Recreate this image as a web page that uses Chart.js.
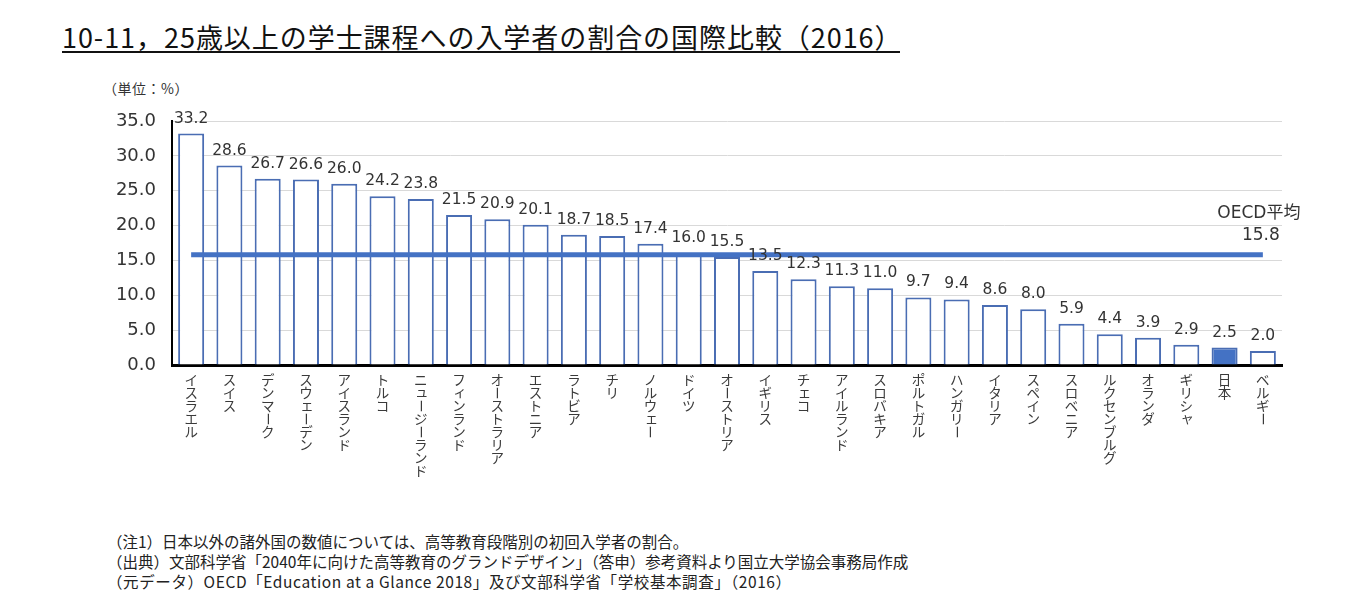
<!DOCTYPE html>
<html lang="ja">
<head>
<meta charset="utf-8">
<script src="https://cdn.jsdelivr.net/npm/chart.js@4"></script>
<style>
  html, body { margin:0; padding:0; background:#fff; }
  body { width:1372px; height:614px; position:relative; overflow:hidden; font-family:"Noto Sans CJK JP", sans-serif; color:#222; }
  #title { position:absolute; left:62px; top:22px; font-size:27px; font-weight:400; letter-spacing:0.95px; color:#111; white-space:nowrap; line-height:30px; }
  #uline { position:absolute; left:62px; top:51px; width:838px; height:2px; background:#111; }
  #unit { position:absolute; left:103px; top:78px; font-size:14px; letter-spacing:0.5px; color:#333; white-space:nowrap; }
  #notes { position:absolute; left:107px; top:531px; font-size:15.5px; line-height:20px; color:#222; white-space:nowrap; }
  #notes .l3 { letter-spacing:0.6px; }
  canvas { position:absolute; left:0; top:0; }
</style>
</head>
<body>
<div id="title">10-11，25歳以上の学士課程への入学者の割合の国際比較（2016）</div>
<div id="uline"></div>
<div id="unit">（単位：%）</div>
<div id="notes">
  <div>（注1）日本以外の諸外国の数値については、高等教育段階別の初回入学者の割合。</div>
  <div>（出典）文部科学省「2040年に向けた高等教育のグランドデザイン」（答申）参考資料より国立大学協会事務局作成</div>
  <div class="l3">（元データ）OECD「Education at a Glance 2018」及び文部科学省「学校基本調査」（2016）</div>
</div>
<canvas id="c" width="1372" height="614"></canvas>
<script>
const countries = ["イスラエル","スイス","デンマーク","スウェーデン","アイスランド","トルコ","ニュージーランド","フィンランド","オーストラリア","エストニア","ラトビア","チリ","ノルウェー","ドイツ","オーストリア","イギリス","チェコ","アイルランド","スロバキア","ポルトガル","ハンガリー","イタリア","スペイン","スロベニア","ルクセンブルグ","オランダ","ギリシャ","日本","ベルギー"];
const values = [33.2,28.6,26.7,26.6,26.0,24.2,23.8,21.5,20.9,20.1,18.7,18.5,17.4,16.0,15.5,13.5,12.3,11.3,11.0,9.7,9.4,8.6,8.0,5.9,4.4,3.9,2.9,2.5,2.0];
const oecdAvg = 15.8;
const oecdLabel = "OECD平均";
const highlight = "日本";
const yTicks = [0,5,10,15,20,25,30,35];

const BLUE = '#4472C4';
const EDGE = '#4a6db3';

const labelPlugin = {
  id: 'labels',
  afterDatasetsDraw(chart) {
    const ctx = chart.ctx;
    const xs = chart.scales.x, ys = chart.scales.y;
    const barMeta = chart.getDatasetMeta(1);
    ctx.save();
    // value labels
    ctx.fillStyle = '#333';
    ctx.font = '15.5px "DejaVu Sans", sans-serif';
    ctx.textAlign = 'center';
    ctx.textBaseline = 'alphabetic';
    barMeta.data.forEach((bar, i) => {
      ctx.fillText(values[i].toFixed(1), bar.x, bar.y - 11);
    });
    // vertical category labels
    ctx.fillStyle = '#3a3a3a';
    ctx.font = '13.5px "Noto Sans CJK JP", sans-serif';
    ctx.textBaseline = 'middle';
    const smalls = 'ァィゥェォャュョッ';
    countries.forEach((name, i) => {
      const x = xs.getPixelForValue(i);
      let y = 380;
      for (const ch of name) {
        if (ch === 'ー') {
          ctx.save();
          ctx.translate(x, y);
          ctx.rotate(Math.PI / 2);
          ctx.fillText(ch, 0, 0);
          ctx.restore();
        } else if (smalls.includes(ch)) {
          ctx.fillText(ch, x + 1, y - 1);
        } else {
          ctx.fillText(ch, x, y);
        }
        y += 13;
      }
    });
    // OECD average label
    const lx = xs.getPixelForValue(countries.length - 1);
    const ly = ys.getPixelForValue(oecdAvg);
    ctx.fillStyle = '#333';
    ctx.textBaseline = 'alphabetic';
    ctx.font = '17px "DejaVu Sans", "Noto Sans CJK JP", sans-serif';
    ctx.fillText(oecdLabel, lx - 4, ly - 37);
    ctx.fillText(oecdAvg.toFixed(1), lx - 2, ly - 15);
    ctx.restore();
  }
};

new Chart(document.getElementById('c'), {
  data: {
    labels: countries,
    datasets: [
      {
        type: 'line',
        label: oecdLabel,
        data: countries.map(() => oecdAvg),
        borderColor: BLUE,
        borderWidth: 5,
        pointRadius: 0,
        borderCapStyle: 'butt',
        order: 0
      },
      {
        type: 'bar',
        label: '割合',
        data: values,
        backgroundColor: countries.map(c => c === highlight ? BLUE : '#ffffff'),
        borderColor: EDGE,
        borderWidth: 2,
        borderSkipped: 'start',
        categoryPercentage: 1.0,
        barPercentage: 0.68,
        order: 1
      }
    ]
  },
  options: {
    responsive: false,
    animation: false,
    devicePixelRatio: 1,
    layout: { padding: { left: 102, right: 90, top: 121, bottom: 249 } },
    plugins: { legend: { display: false }, tooltip: { enabled: false }, title: { display: false } },
    scales: {
      x: {
        offset: true,
        grid: { display: false, drawTicks: false },
        border: { display: true, color: '#000', width: 3 },
        ticks: { display: false },
        afterFit(scale) { scale.height = 0; }
      },
      y: {
        min: 0, max: 35,
        afterBuildTicks(scale) { scale.ticks = yTicks.map(v => ({ value: v })); },
        grid: { color: '#d9d9d9', lineWidth: 1, drawTicks: false },
        border: { display: true, color: '#000', width: 2 },
        ticks: {
          padding: 16,
          color: '#333',
          font: { family: '"DejaVu Sans", sans-serif', size: 18 },
          callback: v => Number(v).toFixed(1)
        },
        afterFit(scale) { scale.width = 70; }
      }
    }
  },
  plugins: [labelPlugin]
});
</script>
</body>
</html>
